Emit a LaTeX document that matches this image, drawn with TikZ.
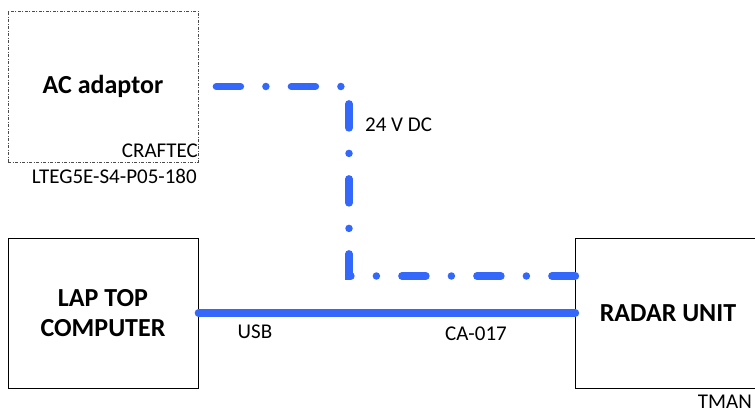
\documentclass[tikz,border=0pt]{standalone}
\usepackage{fontspec}
\setmainfont{Carlito}
\usetikzlibrary{calc}
\definecolor{cblue}{RGB}{52,104,250}

\begin{document}
\begin{tikzpicture}[x=1pt,y=-1pt,
 unit/.style={draw=black,line width=0.9pt,inner sep=0pt,minimum width=190pt,minimum height=150pt},
 adp/.style={draw=black!70,line width=0.8pt,dash pattern=on 3pt off 1.5pt on 1pt off 1.5pt,
   inner sep=0pt,minimum width=190pt,minimum height=151pt},
 big/.style={font=\fontsize{26}{30}\selectfont\bfseries,inner sep=0pt},
 lbl/.style={font=\fontsize{21}{24}\selectfont,inner sep=0pt},
 pwr/.style={cblue,line width=7.5pt,line cap=round,dash pattern=on 24pt off 25.5pt on 0pt off 25.5pt},
 usb/.style={cblue,line width=7.5pt,line cap=round}]
\useasboundingbox (0,0) rectangle (755,412);
% boxes
\node[adp,big] (ac) at (103,86.5) {AC adaptor};
\node[unit,big,align=center] (laptop) at (103,313) {LAP TOP\\COMPUTER};
\node[unit,minimum width=184.3pt,big] (radar) at (668,313) {RADAR UNIT};
% maker labels
\node[lbl,anchor=base east] (craftec) at (198,157) {CRAFTEC};
\node[lbl,anchor=base east] (model) at (197,183) {LTEG5E-S4-P05-180};
\node[lbl,anchor=base east] (tman) at (752,408) {TMAN};
% cables
\coordinate (pstart) at ($(ac.east)+(18,0)$);
\coordinate (drop) at (349,86.5);
\coordinate (pend) at ([yshift=37pt]radar.west);
\draw[pwr] (pstart) -- (drop) |- (pend);
\draw[usb] (laptop.east) -- (radar.west);
\node[lbl,anchor=base west] (dc) at (365,131) {24 V DC};
\node[lbl,anchor=base] (usblbl) at (255,338.5) {USB};
\node[lbl,anchor=base] (cable) at (476,340.5) {CA-017};
\end{tikzpicture}
\end{document}
